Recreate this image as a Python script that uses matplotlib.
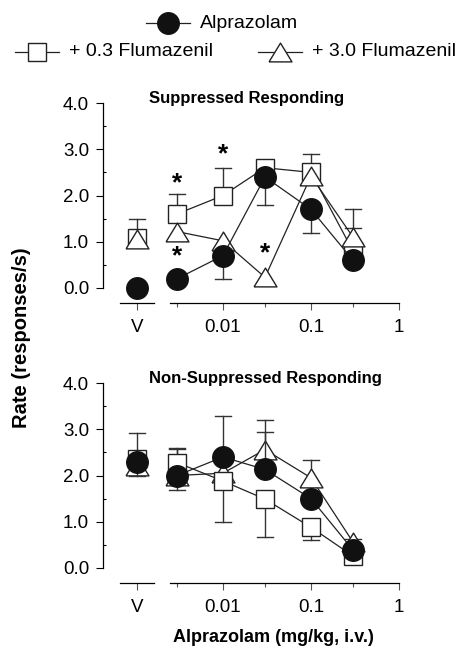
import matplotlib
matplotlib.use("Agg")
import matplotlib.pyplot as plt
from matplotlib.transforms import blended_transform_factory
import numpy as np

plt.rcParams['font.family'] = ['Liberation Sans', 'DejaVu Sans']

# ---- data ----
V_POS = 0.001054  # plotting position of vehicle ("V")
doses = [0.003, 0.01, 0.03, 0.1, 0.3]
x_tick_labels = ['V', '0.01', '0.1', '1']
series_labels = ['Alprazolam', '+ 0.3 Flumazenil', '+ 3.0 Flumazenil']

# Suppressed responding
sup_alp_v, sup_alp = 0.0, [0.2, 0.7, 2.4, 1.7, 0.6]
sup_alp_v_err, sup_alp_err = 0.0, [0.0, -0.5, -0.6, -0.5, 0.0]
sup_f03_v, sup_f03 = 1.08, [1.6, 2.0, 2.6, 2.5, 0.8]
sup_f03_v_err, sup_f03_err = 0.42, [0.43, 0.6, 0.0, 0.4, 0.5]
sup_f30_v, sup_f30 = 1.05, [1.22, 1.02, 0.23, 2.42, 1.1]
sup_f30_v_err, sup_f30_err = 0.0, [0.0, 0.0, 0.0, 0.0, 0.6]
sup_stars = [(0.003, 2.27), (0.01, 2.9), (0.003, 0.68), (0.03, 0.76)]

# Non-suppressed responding
non_alp_v, non_alp = 2.3, [2.0, 2.4, 2.13, 1.5, 0.39]
non_alp_v_err, non_alp_err = -0.3, [-0.31, 0.88, 0.8, 0.0, 0.0]
non_f03_v, non_f03 = 2.35, [2.28, 1.88, 1.49, 0.88, 0.26]
non_f03_v_err, non_f03_err = 0.57, [0.32, -0.89, -0.81, -0.27, 0.0]
non_f30_v, non_f30 = 2.2, [2.0, 2.05, 2.56, 1.95, 0.56]
non_f30_v_err, non_f30_err = 0.0, [0.57, 0.0, 0.63, 0.39, 0.07]

W, H = 468, 657
fig = plt.figure(figsize=(W / 100, H / 100), dpi=100)

XMIN = 10 ** -3.3636
YLIM = (-0.33, 4.1)

mk = {
    'alp': dict(marker='o', markersize=15.5, markerfacecolor='#111111', markeredgecolor='#111111'),
    'f03': dict(marker='s', markersize=13, markerfacecolor='white', markeredgecolor='#222222', markeredgewidth=1.0),
    'f30': dict(marker=[(-1, -0.82), (1, -0.82), (0, 0.82), (-1, -0.82)], markersize=16.5,
                markerfacecolor='white', markeredgecolor='#222222', markeredgewidth=1.0),
}


def draw_err(ax, x, y, e, z):
    if e == 0:
        return
    ax.plot([x, x], [y, y + e], color='#333333', lw=1.0, zorder=z - 0.5, clip_on=False)
    xl, xr = x * 10 ** (-0.095), x * 10 ** (0.095)
    ax.plot([xl, xr], [y + e, y + e], color='#333333', lw=1.0, zorder=z - 0.5, clip_on=False)


def panel(rect, title, series, order, stars):
    ax = fig.add_axes(rect)
    ax.set_xscale('log')
    ax.set_xlim(XMIN, 1)
    ax.set_ylim(*YLIM)
    for s in ['top', 'right']:
        ax.spines[s].set_visible(False)
    ax.spines['left'].set_bounds(0, 4)
    ax.spines['bottom'].set_bounds(0.0025, 1)
    ax.spines['left'].set_linewidth(0.9)
    ax.spines['bottom'].set_linewidth(0.9)
    # broken axis segment for vehicle
    tr = blended_transform_factory(ax.transData, ax.transAxes)
    ax.plot([10 ** -3.170, 10 ** -2.784], [0, 0], transform=tr, color='black', lw=0.9, clip_on=False)
    ax.set_yticks([0, 1, 2, 3, 4])
    ax.set_yticklabels(['0.0', '1.0', '2.0', '3.0', '4.0'], fontsize=13.5)
    ax.set_yticks([0.5, 1.5, 2.5, 3.5], minor=True)
    ax.tick_params(axis='y', which='major', direction='out', length=5, width=0.8, pad=5)
    ax.tick_params(axis='y', which='minor', direction='in', length=2.5, width=0.8)
    ax.set_xticks([V_POS, 0.01, 0.1, 1])
    ax.set_xticklabels(x_tick_labels, fontsize=13.5)
    ax.set_xticks([0.003, 0.03, 0.3], minor=True)
    ax.xaxis.set_minor_formatter(plt.NullFormatter())
    ax.tick_params(axis='x', which='major', direction='out', length=5, width=0.8, pad=6, color='#555555')
    ax.tick_params(axis='x', which='minor', direction='out', length=3, width=0.8, color='#555555')
    ax.text((149 - 103) / (399 - 103), 1.0, title, transform=ax.transAxes, ha='left', va='center',
            fontsize=12, fontweight='bold')
    for i, key in enumerate(order):
        vy, ys, ve, es = series[key]
        z = 3 + i
        draw_err(ax, V_POS, vy, ve, z)
        for x, y, e in zip(doses, ys, es):
            draw_err(ax, x, y, e, z)
        ax.plot(doses, ys, color='#222222', lw=0.9, zorder=z, clip_on=False, **mk[key])
        ax.plot([V_POS], [vy], linestyle='none', zorder=z, clip_on=False, **mk[key])
    for x, y in stars:
        ax.text(x, y, '*', ha='center', va='center', fontsize=19, fontweight='bold')
    return ax


def rect_for(zero_px):
    left = 103 / W
    width = (399 - 103) / W
    ppu = 46.25
    bottom_px = zero_px + 0.33 * ppu
    top_px = zero_px - 4.1 * ppu
    return [left, 1 - bottom_px / H, width, (bottom_px - top_px) / H]


sup = {'alp': (sup_alp_v, sup_alp, sup_alp_v_err, sup_alp_err),
       'f03': (sup_f03_v, sup_f03, sup_f03_v_err, sup_f03_err),
       'f30': (sup_f30_v, sup_f30, sup_f30_v_err, sup_f30_err)}
non = {'alp': (non_alp_v, non_alp, non_alp_v_err, non_alp_err),
       'f03': (non_f03_v, non_f03, non_f03_v_err, non_f03_err),
       'f30': (non_f30_v, non_f30, non_f30_v_err, non_f30_err)}

ax1 = panel(rect_for(288), 'Suppressed Responding', sup, ['f03', 'f30', 'alp'], sup_stars)
ax2 = panel(rect_for(568), 'Non-Suppressed Responding', non, ['f30', 'f03', 'alp'], [])

fig.text(22 / W, 1 - 338 / H, 'Rate (responses/s)', rotation=90, ha='center', va='center',
         fontsize=14.5, fontweight='bold')
fig.text(273 / W, 1 - 637 / H, 'Alprazolam (mg/kg, i.v.)', ha='center', va='center',
         fontsize=13, fontweight='bold')

# legend
lax = fig.add_axes([0, 0, 1, 1])
lax.set_xlim(0, W)
lax.set_ylim(H, 0)
lax.axis('off')
leg_items = [('alp', 168, 23, series_labels[0]), ('f03', 37, 52, series_labels[1]),
             ('f30', 280, 52, series_labels[2])]
for key, cx, cy, lab in leg_items:
    lax.plot([cx - 22, cx + 22], [cy, cy], color='#222222', lw=0.9)
    lax.plot([cx], [cy], linestyle='none', **mk[key])
    lax.text(cx + 32, cy, lab, ha='left', va='center', fontsize=14)

fig.savefig('out.png', dpi=100)
